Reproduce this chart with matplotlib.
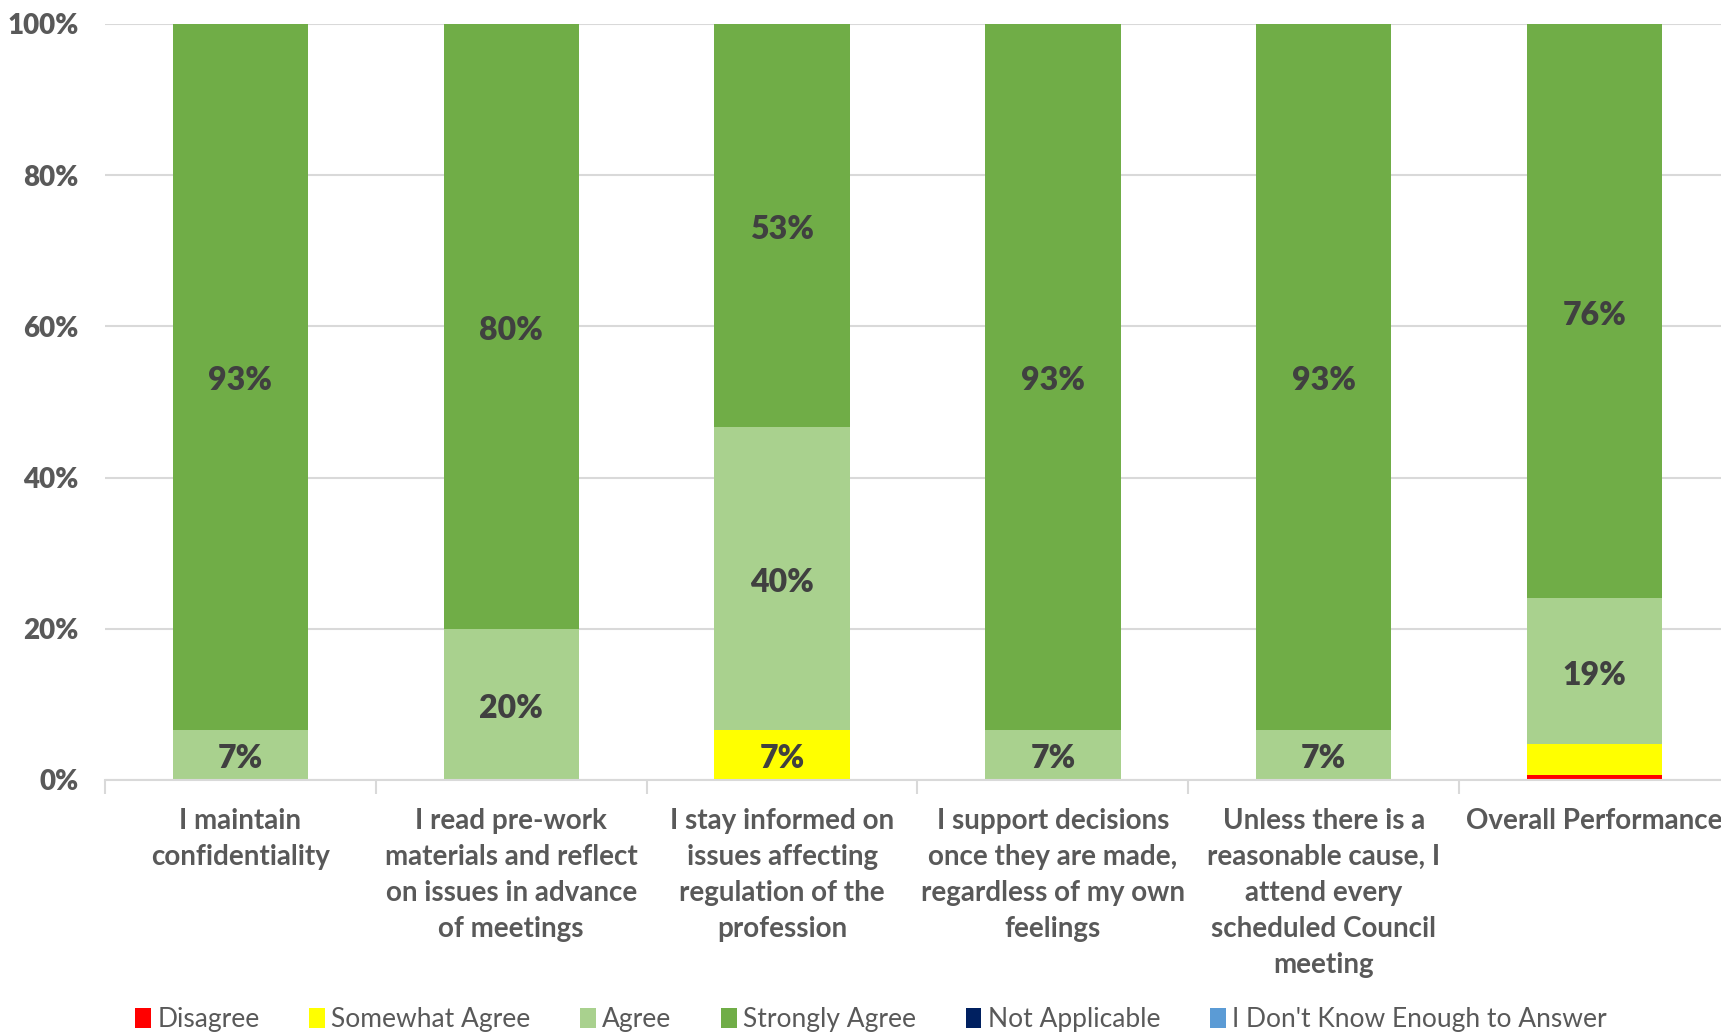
import matplotlib
matplotlib.use("Agg")
import matplotlib.pyplot as plt
import numpy as np

categories = [
    "I maintain\nconfidentiality",
    "I read pre-work\nmaterials and reflect\non issues in advance\nof meetings",
    "I stay informed on\nissues affecting\nregulation of the\nprofession",
    "I support decisions\nonce they are made,\nregardless of my own\nfeelings",
    "Unless there is a\nreasonable cause, I\nattend every\nscheduled Council\nmeeting",
    "Overall Performance",
]
series_names = ["Disagree", "Somewhat Agree", "Agree", "Strongly Agree",
                "Not Applicable", "I Don't Know Enough to Answer"]
disagree = [0, 0, 0, 0, 0, 0.6]
somewhat = [0, 0, 6.67, 0, 0, 4.1]
agree = [6.67, 20, 40, 6.67, 6.67, 19.4]
strongly = [93.33, 80, 53.33, 93.33, 93.33, 75.9]
not_applicable = [0, 0, 0, 0, 0, 0]
dont_know = [0, 0, 0, 0, 0, 0]
yticks = [0, 20, 40, 60, 80, 100]

colors = ["#FF0000", "#FFFF00", "#A9D18E", "#70AD47", "#002060", "#5B9BD5"]
data = [disagree, somewhat, agree, strongly, not_applicable, dont_know]

plt.rcParams['font.family'] = ['Lato', 'DejaVu Sans']
fig = plt.figure(figsize=(17.21, 10.32), dpi=100)
ax = fig.add_axes([105/1721, 1-780/1032, 1625/1721, (780-24)/1032])

x = np.arange(len(categories))
bottom = np.zeros(len(categories))
handles = []
for name, vals, c in zip(series_names, data, colors):
    vals = np.array(vals, dtype=float)
    b = ax.bar(x, vals, 0.5, bottom=bottom, color=c, label=name, zorder=3)
    handles.append(b)
    for xi, v, bt in zip(x, vals, bottom):
        if v >= 5:
            ax.annotate(f"{v:.0f}%", (xi, bt + v/2), xytext=(0, -3),
                        textcoords='offset points', ha='center', va='center',
                        fontsize=23, fontweight='heavy', color='#404040', zorder=4)
    bottom += vals

ax.set_xlim(-0.5, 5.5)
ax.set_ylim(0, 100)
ax.set_yticks(yticks)
ax.set_yticklabels([f"{t}%" for t in yticks], fontsize=20, fontweight='heavy', color='#595959')
ax.yaxis.grid(True, color='#D9D9D9', linewidth=1.5, zorder=0)
ax.tick_params(axis='y', length=0, pad=19)
for s in ['left', 'right', 'top']:
    ax.spines[s].set_visible(False)
ax.spines['bottom'].set_color('#D9D9D9')
ax.spines['bottom'].set_linewidth(1.5)
ax.spines['bottom'].set_zorder(5)

ax.set_xticks(x)
ax.set_xticklabels(categories, fontsize=20, fontweight='bold', color='#595959', linespacing=1.48)
ax.tick_params(axis='x', which='major', length=0, pad=20)
ax.set_xticks(np.arange(-0.5, 6.0, 1.0), minor=True)
ax.tick_params(axis='x', which='minor', length=10, width=1.5, color='#D9D9D9')

fig.legend(handles=handles, labels=series_names, loc='center', ncol=6,
           bbox_to_anchor=(0.506, 0.012), frameon=False, fontsize=19,
           handlelength=0.6, handleheight=0.8, handletextpad=0.25,
           columnspacing=1.87, labelcolor='#595959')

fig.savefig("out.png", dpi=100)
